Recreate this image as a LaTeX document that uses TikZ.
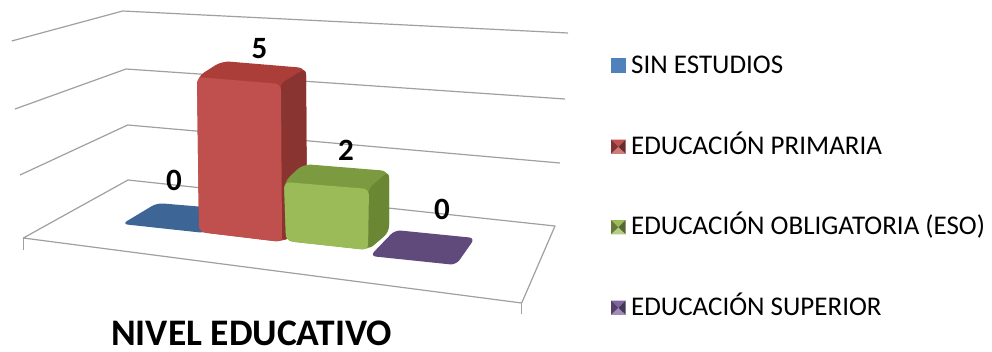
\documentclass[tikz,border=0pt]{standalone}
\usepackage{fontspec}
\setmainfont{Carlito}
\definecolor{gridc}{RGB}{160,160,160}
\definecolor{blueflat}{RGB}{61,101,150}
\definecolor{bluekey}{RGB}{79,129,189}
\definecolor{redfront}{RGB}{192,80,77}
\definecolor{redtop}{RGB}{172,62,58}
\definecolor{redside}{RGB}{138,52,50}
\definecolor{greenfront}{RGB}{155,187,89}
\definecolor{greentop}{RGB}{124,155,64}
\definecolor{greenside}{RGB}{106,136,52}
\definecolor{purpleflat}{RGB}{96,74,123}
\definecolor{purplekey}{RGB}{128,100,162}
\begin{document}
\begin{tikzpicture}[x=1pt,y=-1pt,
  grid/.style={draw=gridc, line width=1.2pt, line join=round},
  face/.style={rounded corners=6pt},
  lbl/.style={font=\fontsize{31}{34}\selectfont\bfseries, anchor=base, inner sep=0pt},
  legtext/.style={font=\fontsize{27}{30}\selectfont, anchor=base west, inner sep=0pt},
  titletext/.style={font=\fontsize{37.5}{40}\selectfont\bfseries, anchor=base west, inner sep=0pt, text depth=0pt},
]
\useasboundingbox (0,0) rectangle (992,351);
\fill[white] (0,0) rectangle (992,351);

% gridlines and floor
\draw[grid] (11.7,41) -- (122.7,11) -- (568,33);
\draw[grid] (15,109) -- (126,69) -- (565,99);
\draw[grid] (20,175) -- (127.7,125) -- (560,163);
\draw[grid] (128,180) -- (555,226) -- (521.7,303) -- (23.3,238) -- cycle;
\draw[grid] (23.3,238) -- (23.3,250);
\draw[grid] (521.7,303) -- (521.7,314);

% SIN ESTUDIOS (0)
\fill[blueflat, face] (122,224) -- (157,203) -- (240,210) -- (205,233) -- cycle;

% EDUCACION PRIMARIA (5)
\fill[redtop, rounded corners=8pt] (197,77) -- (222,61) -- (306,68) -- (307,227) -- (282,242) -- (199,232) -- cycle;
\fill[redside, face] (280,84) -- (306,68) -- (307,227) -- (282,242) -- cycle;
\fill[redfront, face] (197,77) -- (281,84) -- (282,242) -- (199,232) -- cycle;

% EDUCACION OBLIGATORIA (2)
\fill[greentop, rounded corners=8pt] (284,182) -- (303,164) -- (389,171) -- (389,232) -- (368,250) -- (286,241) -- cycle;
\fill[greenside, face] (368,189) -- (389,171) -- (389,232) -- (368,250) -- cycle;
\fill[greenfront, face] (284,182) -- (369,189) -- (368,250) -- (286,241) -- cycle;

% EDUCACION SUPERIOR (0)
\fill[purpleflat, face] (370,256) -- (395,230) -- (475,238) -- (456,265) -- cycle;

% data labels
\node[lbl] (l0a) at (174,190) {0};
\node[lbl] (l5) at (259.5,58) {5};
\node[lbl] (l2) at (346,160) {2};
\node[lbl] (l0b) at (442,219) {0};

% title
\node[titletext] (title) at (111,345) {NIVEL EDUCATIVO};

% legend
\fill[bluekey] (611,58.3) rectangle (625.7,72.7);
\node[legtext] (k1) at (631,73.3) {SIN ESTUDIOS};

\foreach \yy/\cc/\nm [count=\i] in {139.5/redfront/EDUCACIÓN PRIMARIA, 220/greenfront/EDUCACIÓN OBLIGATORIA (ESO), 300.5/purplekey/EDUCACIÓN SUPERIOR}{
  \fill[\cc] (611,\yy) -- (625.7,\yy) -- (618.35,\yy+7.2) -- cycle;
  \fill[\cc!75!white] (611,\yy+14.4) -- (625.7,\yy+14.4) -- (618.35,\yy+7.2) -- cycle;
  \fill[\cc!65!black] (611,\yy) -- (611,\yy+14.4) -- (618.35,\yy+7.2) -- cycle;
  \fill[\cc!55!black] (625.7,\yy) -- (625.7,\yy+14.4) -- (618.35,\yy+7.2) -- cycle;
  \node[legtext] (k\i) at (631,\yy+14.7) {\nm};
}
\end{tikzpicture}
\end{document}
